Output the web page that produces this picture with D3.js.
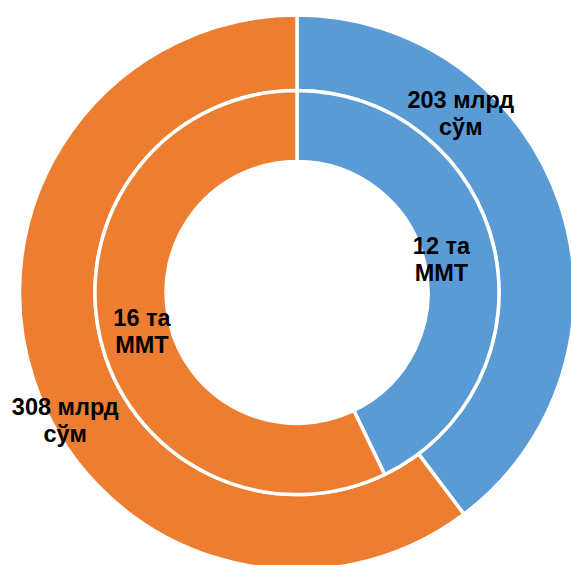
<!DOCTYPE html>
<html>
<head>
<meta charset="utf-8">
<script src="https://cdn.jsdelivr.net/npm/d3@7"></script>
<style>
  html, body { margin: 0; padding: 0; background: #fff; }
  svg { display: block; }
  .lbl { font-family: "Liberation Sans", Arial, sans-serif; font-weight: bold; font-size: 23.5px; fill: #000; }
</style>
</head>
<body>
<div id="chart"></div>
<script>
// outer ring: сумма (млрд сўм), inner ring: число ММТ
var categories = ["blue", "orange"];
var outerValues = [203, 308];
var innerValues = [12, 16];
var outerLabels = [["203 млрд", "сўм"], ["308 млрд", "сўм"]];
var innerLabels = [["12 та", "ММТ"], ["16 та", "ММТ"]];

var width = 571, height = 565;
var cx = 297, cy = 292.5;
var rOuter = 277.5, rMid = 202, rHole = 131;

var color = d3.scaleOrdinal()
    .domain(categories)
    .range(["#5B9BD5", "#ED7D31"]);

var svg = d3.select("#chart").append("svg")
    .attr("width", width)
    .attr("height", height)
  .append("g")
    .attr("transform", "translate(" + cx + "," + cy + ")");

var pie = d3.pie().sort(null).value(function(d) { return d; });

var outerArc = d3.arc().innerRadius(rMid).outerRadius(rOuter);
var innerArc = d3.arc().innerRadius(rHole).outerRadius(rMid);

svg.selectAll("path.outer")
    .data(pie(outerValues))
  .enter().append("path")
    .attr("class", "outer")
    .attr("d", outerArc)
    .attr("fill", function(d, i) { return color(categories[i]); })
    .attr("stroke", "#fff")
    .attr("stroke-width", 3.5);

svg.selectAll("path.inner")
    .data(pie(innerValues))
  .enter().append("path")
    .attr("class", "inner")
    .attr("d", innerArc)
    .attr("fill", function(d, i) { return color(categories[i]); })
    .attr("stroke", "#fff")
    .attr("stroke-width", 3.5);

// label placement (angle in degrees from top, radius) -- the data labels were dragged in the original
var outerPos = [[42.6, 242], [241.0, 265]];
var innerPos = [[77.5, 148], [255.7, 160]];

function addLabels(lines, pos) {
  lines.forEach(function(l, i) {
    var p = d3.pointRadial(pos[i][0] * Math.PI / 180, pos[i][1]);
    var t = svg.append("text")
        .attr("class", "lbl")
        .attr("text-anchor", "middle")
        .attr("x", p[0])
        .attr("y", p[1] - 6);
    l.forEach(function(s, j) {
      t.append("tspan")
        .attr("x", p[0])
        .attr("dy", j === 0 ? 0 : 27)
        .text(s);
    });
  });
}
addLabels(outerLabels, outerPos);
addLabels(innerLabels, innerPos);
</script>
</body>
</html>
